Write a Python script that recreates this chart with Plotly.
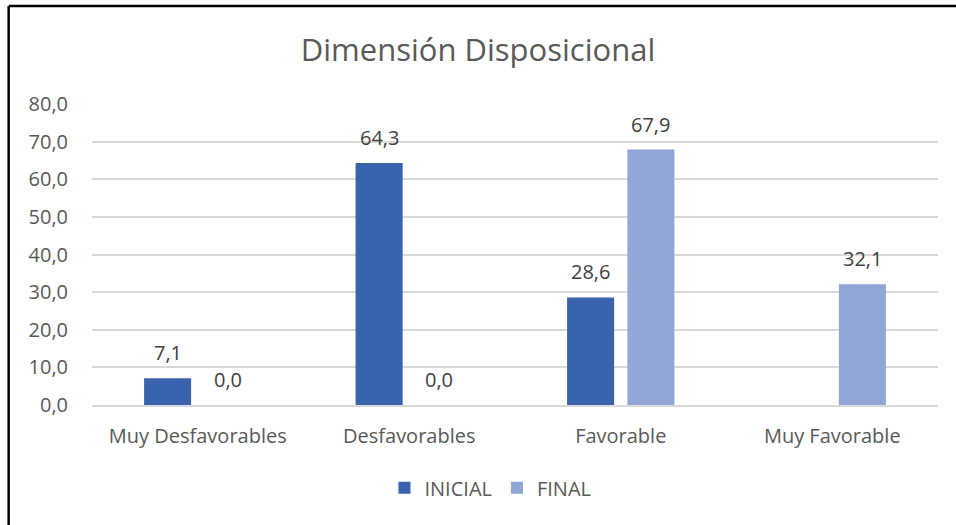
import plotly.graph_objects as go

categories = ["Muy Desfavorables", "Desfavorables", "Favorable", "Muy Favorable"]
inicial = [7.1, 64.3, 28.6, None]
final = [0.0, 0.0, 67.9, 32.1]
series_names = ["INICIAL", "FINAL"]
series_colors = ["#3A63AD", "#8FA6D6"]
title_text = "Dimensión Disposicional"
y_ticks = [0, 10, 20, 30, 40, 50, 60, 70, 80]

FONT = "Open Sans, Segoe UI, Calibri, sans-serif"
TXT = "#595959"
LBL = "#404040"

W, H = 956, 525
ML, MR, MT, MB = 92, 18, 104, 120
BARGAP, BARGROUPGAP = 0.43, 0.22

fig = go.Figure()
for name, vals, col in zip(series_names, [inicial, final], series_colors):
    fig.add_trace(go.Bar(x=categories, y=vals, name=name, marker=dict(color=col, line=dict(width=0))))

# data labels placed above each bar, shifted to the bar's slot in the group
plot_w = W - ML - MR
cat_w = plot_w / len(categories)
slot = cat_w * (1 - BARGAP) / len(series_names)
annotations = []
for i, vals in enumerate([inicial, final]):
    shift = (i - (len(series_names) - 1) / 2) * slot
    for c, v in zip(categories, vals):
        if v is None:
            continue
        annotations.append(dict(
            x=c, y=v, xref="x", yref="y", text=f"{v:.1f}".replace(".", ","),
            showarrow=False, xanchor="center", yanchor="bottom",
            xshift=shift, yshift=10,
            font=dict(size=20, color=LBL, family=FONT),
        ))

fig.update_layout(
    width=W, height=H,
    paper_bgcolor="white", plot_bgcolor="white",
    separators=",.",
    barmode="group", bargap=BARGAP, bargroupgap=BARGROUPGAP,
    margin=dict(l=ML, r=MR, t=MT, b=MB),
    font=dict(family=FONT, color=TXT, size=20),
    title=dict(text=title_text, x=0.5, xanchor="center", y=0.905, yanchor="middle",
               font=dict(size=31, color=TXT, family=FONT)),
    xaxis=dict(showline=True, linecolor="#D9D9D9", linewidth=1.5, ticks="",
               ticklabelstandoff=12, tickfont=dict(size=20, color=TXT)),
    yaxis=dict(range=[0, 80], tickvals=y_ticks, tickformat=".1f",
               showgrid=True, gridcolor="#D9D9D9", gridwidth=1.5,
               zeroline=False, showline=False, ticks="", ticklabelstandoff=23,
               tickfont=dict(size=20, color=TXT)),
    legend=dict(orientation="h", x=0.471, xanchor="center", y=-0.21, yanchor="top",
                font=dict(size=20, color=TXT), itemwidth=30, traceorder="normal"),
    annotations=annotations,
    shapes=[
        dict(type="line", xref="paper", yref="paper", x0=-0.0985, x1=1.1,
             y0=1.3256, y1=1.3256, line=dict(color="black", width=2.5)),
        dict(type="line", xref="paper", yref="paper", x0=-0.0985, x1=-0.0985,
             y0=1.3256, y1=-0.5, line=dict(color="black", width=2.5)),
    ],
)

fig.write_html("out.html")
